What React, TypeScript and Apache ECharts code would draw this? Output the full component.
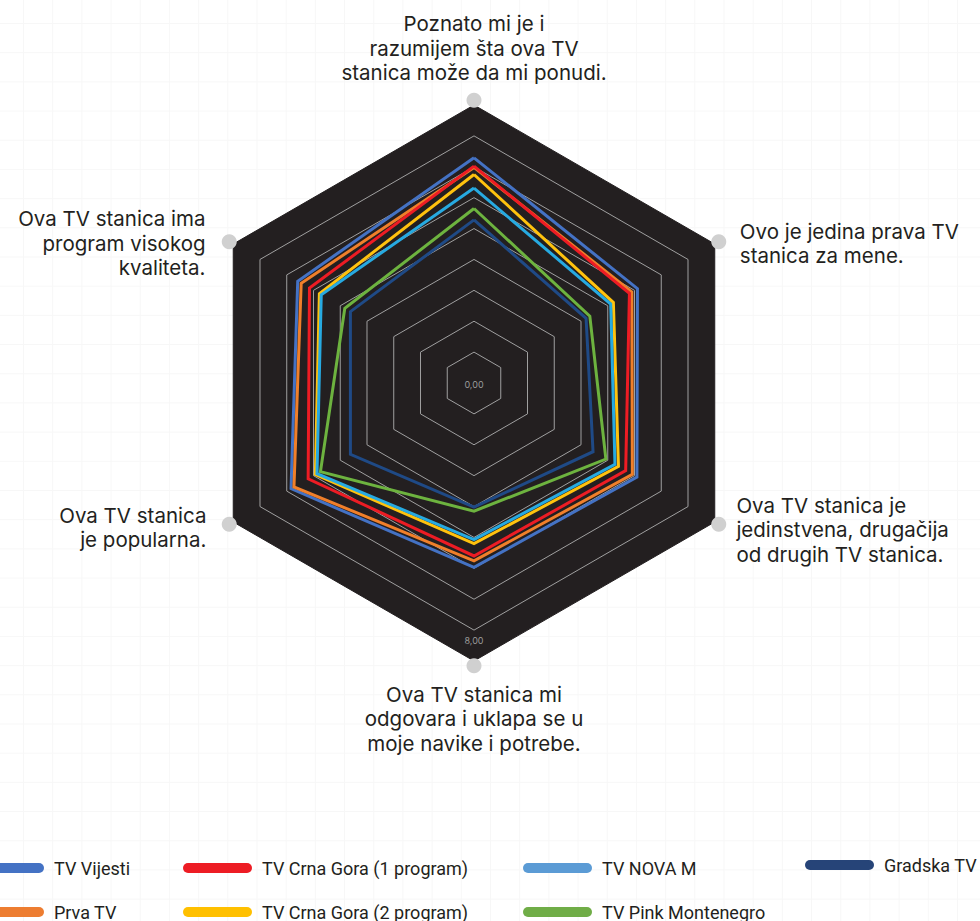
import React, { useEffect, useRef } from "react";
import * as echarts from "echarts";

// Axis order (ECharts draws counter-clockwise from the top):
// top, upper-left, lower-left, bottom, lower-right, upper-right
const axisNames = [
  "Poznato mi je i\nrazumijem šta ova TV\nstanica može da mi ponudi.",
  "Ova TV stanica ima\nprogram visokog\nkvaliteta.",
  "Ova TV stanica\nje popularna.",
  "Ova TV stanica mi\nodgovara i uklapa se u\nmoje navike i potrebe.",
  "Ova TV stanica je\njedinstvena, drugačija\nod drugih TV stanica.",
  "Ovo je jedina prava TV\nstanica za mene.",
];

const axisMin = 0;
const axisMax = 9;
const shownTickLabels = [0, 8];
const outerMarkerValue = 9.15;

const stationNames = [
  "TV Vijesti",
  "Prva TV",
  "TV Crna Gora (1 program)",
  "TV Crna Gora (2 program)",
  "TV NOVA M",
  "TV Pink Montenegro",
  "Gradska TV",
];

const tvVijesti = [7.29, 6.59, 6.84, 5.97, 6.09, 6.11];
const prvaTv = [6.98, 6.46, 6.73, 5.76, 5.92, 5.9];
const tvcg1 = [7.02, 6.15, 6.2, 5.6, 5.67, 5.81];
const tvcg2 = [6.75, 5.78, 5.93, 5.2, 5.4, 5.21];
const novaM = [6.31, 5.71, 5.87, 5.07, 5.27, 5.11];
const pinkMontenegro = [5.65, 4.83, 5.74, 4.15, 4.93, 4.33];
const gradskaTv = [5.28, 4.62, 4.62, 4.02, 4.45, 4.19];

const stationValues = [tvVijesti, prvaTv, tvcg1, tvcg2, novaM, pinkMontenegro, gradskaTv];
const lineColors = ["#4472c4", "#f07f2a", "#ed1c24", "#ffc20e", "#27aae1", "#6db33f", "#1f4a86"];
const legendColors = ["#4472c4", "#ed7d31", "#ed1c24", "#ffc000", "#5b9bd5", "#70ad47", "#264478"];

const legendColumns = [
  { names: ["TV Vijesti", "Prva TV"], left: -25, top: 859 },
  { names: ["TV Crna Gora (1 program)", "TV Crna Gora (2 program)"], left: 183, top: 859 },
  { names: ["TV NOVA M", "TV Pink Montenegro"], left: 523, top: 859 },
  { names: ["Gradska TV"], left: 805, top: 856 },
];

// per-axis name placement: gap from the tip, vertical shift (px, + = down)
const nameGaps = [20, 32, 31, 21, 25, 29];
const nameShifts = [0, 15, -10, 0, -5, 14];

const fmt = (v: number) => v.toFixed(2).replace(".", ",");

export default function App() {
  const ref = useRef<HTMLDivElement>(null);
  useEffect(() => {
    if (!ref.current) return;
    const chart = echarts.init(ref.current, null, { renderer: "svg" });
    const gridColors = Array.from({ length: 10 }, (_, i) => (i === 9 ? "#231f20" : "#a0a0a0"));
    const icon = "path://M5,0L64,0A5,5,0,0,1,64,10L5,10A5,5,0,0,1,5,0Z";
    const nameFont = { color: "#231f20", fontSize: 20.5, fontFamily: "Inter", lineHeight: 24.5 };
    const spacerRich: any = {};
    nameShifts.forEach((s) => {
      if (s !== 0) spacerRich["s" + Math.abs(s)] = { fontSize: 8, lineHeight: Math.abs(s) * 2, fontFamily: "Inter" };
    });
    const option: any = {
      animation: false,
      radar: {
        center: [474, 383],
        radius: 278,
        startAngle: 90,
        splitNumber: 9,
        shape: "polygon",
        indicator: axisNames.map((n, i) => {
          const ind: any = {
            name: n,
            min: axisMin,
            max: axisMax,
            nameGap: nameGaps[i],
          };
          if (i === 3) {
            ind.axisLabel = {
              show: true,
              margin: 0,
              color: "#9a9a9a",
              fontSize: 9,
              fontFamily: "Inter",
              align: "center",
              verticalAlign: "middle",
              formatter: (v: number) =>
                shownTickLabels.includes(v) ? (v === 0 ? "{a|" + fmt(v) + "}" : "{b|" + fmt(v) + "}") : "",
              rich: {
                a: { color: "#9a9a9a", fontSize: 9, fontFamily: "Inter", padding: [3, 0, 0, 0] },
                b: { color: "#9a9a9a", fontSize: 9, fontFamily: "Inter", padding: [20, 0, 0, 0] },
              },
            };
          }
          return ind;
        }),
        axisName: {
          ...nameFont,
          formatter: (name: string) => {
            const idx = axisNames.indexOf(name);
            const shift = idx >= 0 ? nameShifts[idx] : 0;
            const lines = name.split("\n").map((l) => "{n|" + l + "}");
            const spacer = "{s" + Math.abs(shift) + "| }";
            if (shift > 0) return [spacer].concat(lines).join("\n");
            if (shift < 0) return lines.concat([spacer]).join("\n");
            return lines.join("\n");
          },
          rich: {
            n: { ...nameFont },
            ...spacerRich,
          },
        },
        axisLine: { show: false },
        axisTick: { show: false },
        axisLabel: { show: false },
        splitLine: { show: true, lineStyle: { color: gridColors, width: 1 } },
        splitArea: { show: true, areaStyle: { color: ["#231f20"] } },
      },
      legend: legendColumns.map((col) => ({
        orient: "vertical",
        left: col.left,
        top: col.top,
        height: 120,
        padding: 0,
        itemWidth: 69,
        itemHeight: 10,
        itemGap: 26,
        selectedMode: false,
        icon,
        textStyle: {
          fontSize: 18,
          color: "#231f20",
          fontFamily: "Roboto",
          lineHeight: 18,
          padding: [0, 0, 0, 5],
        },
        data: col.names.map((name) => ({
          name,
          icon,
          itemStyle: { color: legendColors[stationNames.indexOf(name)] },
        })),
      })),
      series: [
        ...stationNames.map((name, i) => ({
          type: "radar",
          name,
          color: lineColors[i],
          symbol: "none",
          silent: true,
          lineStyle: { width: 3, color: lineColors[i], join: "miter" },
          itemStyle: { color: lineColors[i] },
          data: [{ name, value: stationValues[i] }],
          z: 2,
        })),
        {
          type: "radar",
          name: "__outer",
          symbol: "circle",
          symbolSize: 15,
          silent: true,
          itemStyle: { color: "#d0d0d0" },
          lineStyle: { width: 0, opacity: 0 },
          data: [{ value: axisNames.map(() => outerMarkerValue) }],
          z: 3,
        },
      ],
    };
    chart.setOption(option);
    return () => chart.dispose();
  }, []);
  return (
    <div
      ref={ref}
      style={{
        position: "fixed",
        left: 0,
        top: 0,
        width: 980,
        height: 921,
        backgroundColor: "#ffffff",
        backgroundImage:
          "linear-gradient(to right, #f7f7f7 1px, transparent 1px), linear-gradient(to bottom, #f7f7f7 1px, transparent 1px)",
        backgroundSize: "29.2px 29.2px",
        backgroundPosition: "23px 23px",
      }}
    />
  );
}
